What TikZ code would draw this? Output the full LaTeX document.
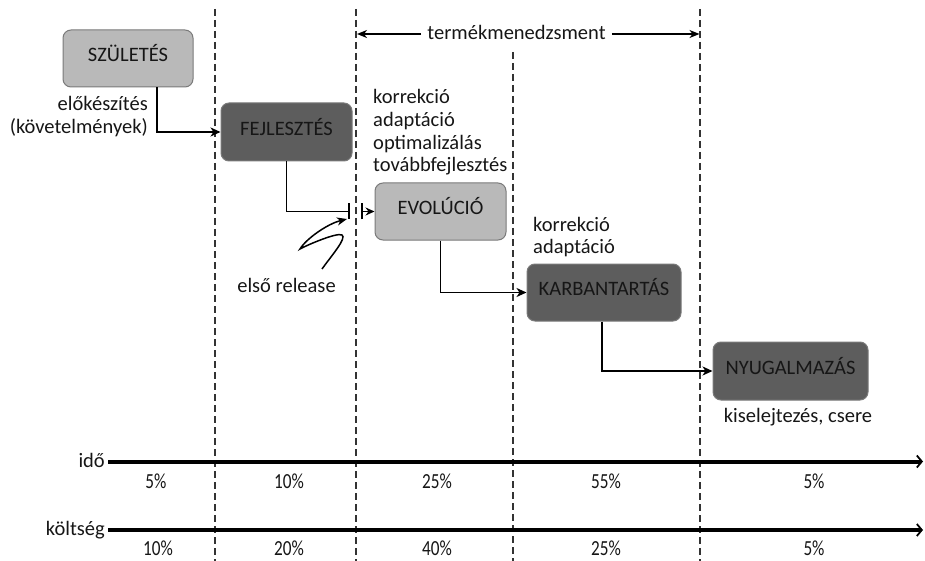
\documentclass[tikz,border=0pt]{standalone}
\usepackage{fontspec}
\usepackage{graphicx}
\setmainfont{Carlito}
\usetikzlibrary{arrows.meta}
\definecolor{lightbox}{HTML}{B9B9B9}
\definecolor{darkbox}{HTML}{5D5D5D}
\definecolor{boxedge}{HTML}{7A7A7A}
\definecolor{ink}{HTML}{161616}
\definecolor{dashc}{HTML}{333333}
\newcommand{\pct}[1]{\scalebox{0.8}[1]{#1}}
\begin{document}
\begin{tikzpicture}[x=1pt,y=-1pt,
  every node/.style={text=ink},
  box/.style={rounded corners=8pt, draw=boxedge, line width=1pt,
    font=\fontsize{20.5}{23}\selectfont, text height=0.64em, text depth=0pt},
  lbl/.style={font=\fontsize{20.5}{23}\selectfont, inner sep=0pt},
  pctlbl/.style={font=\fontsize{21.5}{24}\selectfont, inner sep=0pt, anchor=base},
  conn/.style={draw=black, line width=1.6pt, -{Stealth[length=10pt,width=9pt,inset=3pt]}},
  vdash/.style={draw=dashc, line width=2pt, dash pattern=on 7pt off 4pt},
  axis/.style={draw=black, line width=4pt, -{Straight Barb[length=5pt,width=12pt,line width=1.8pt]}},
  tmarrow/.style={draw=black, line width=1.5pt, -{Stealth[length=10pt,width=8pt,inset=3pt]}}
]
\useasboundingbox (0,0) rectangle (925,561);

% dashed separators
\coordinate (d1t) at (214.5,9);  \coordinate (d1b) at (214.5,561);
\coordinate (d2t) at (355.5,9);  \coordinate (d2b) at (355.5,561);
\coordinate (d3t) at (513,52);   \coordinate (d3b) at (513,561);
\coordinate (d4t) at (699.5,9);  \coordinate (d4b) at (699.5,561);
\draw[vdash] (d1t) -- (d1b);
\draw[vdash] (d2t) -- (d2b);
\draw[vdash] (d3t) -- (d3b);
\draw[vdash] (d4t) -- (d4b);

% product management span
\node[lbl, anchor=base] (tm) at (516.5,40) {termékmenedzsment};
\coordinate (tmL) at (357,34);
\coordinate (tmR) at (699.5,34);
\draw[tmarrow] ([xshift=-6pt]tm.west |- tmL) -- (tmL);
\draw[tmarrow] ([xshift=6pt]tm.east |- tmR) -- (tmR);

% phase boxes
\node[box, fill=lightbox, minimum width=130pt, minimum height=57pt] (szul) at (128,58.5) {SZÜLETÉS};
\node[box, fill=darkbox, minimum width=131pt, minimum height=58pt] (fej) at (286.5,132) {FEJLESZTÉS};
\node[box, fill=lightbox, minimum width=131pt, minimum height=57pt] (evo) at (440.5,211.5) {EVOLÚCIÓ};
\node[box, fill=darkbox, minimum width=154pt, minimum height=57pt] (karb) at (604,292.5) {KARBANTARTÁS};
\node[box, fill=darkbox, minimum width=155pt, minimum height=58pt] (nyug) at (790.5,371) {NYUGALMAZÁS};

% side texts
\node[lbl, anchor=base east] (elo1) at (148,111) {előkészítés};
\node[lbl, anchor=base east] (elo2) at (148,134) {(követelmények)};

\node[lbl, anchor=base west] (ev1) at (373,104) {korrekció};
\node[lbl, anchor=base west] (ev2) at (373,126.6) {adaptáció};
\node[lbl, anchor=base west] (ev3) at (373,149.2) {optimalizálás};
\node[lbl, anchor=base west] (ev4) at (373,171.8) {továbbfejlesztés};

\node[lbl, anchor=base west] (ka1) at (533,231) {korrekció};
\node[lbl, anchor=base west] (ka2) at (533,253.6) {adaptáció};

\node[lbl, anchor=base] (kis) at (798,422) {kiselejtezés, csere};
\node[lbl, anchor=base] (rel) at (286.5,292) {első release};

% connectors
\draw[conn] ([xshift=29pt]szul.south) |- (fej.west);
\coordinate (t1) at (350,211.5);
\coordinate (t2) at (361,211.5);
\draw[draw=black, line width=1.6pt, -{Bar[width=16pt,line width=1.6pt]}] (fej.south) |- (t1);
\draw[draw=black, line width=1.6pt, {Bar[width=16pt,line width=1.6pt]}-{Stealth[length=9pt,width=8pt,inset=3pt]}] (t2) -- (evo.west);
\draw[conn] (evo.south) |- (karb.west);
\draw[conn] ([xshift=-2pt]karb.south) |- (nyug.west);

% release pointer
\coordinate (sq0) at (322,269);
\coordinate (sqtip) at (347,219);
\draw[draw=black, line width=1.5pt, -{Stealth[length=10pt,width=8pt,inset=3pt]}]
  (sq0) .. controls (332,255) and (347,238) .. (342,235)
        .. controls (337,232) and (305,246) .. (300,249)
        .. controls (306,239) and (327,224) .. (sqtip);

% axes
\node[lbl, anchor=base east] (ido) at (105,467) {idő};
\node[lbl, anchor=base east] (kolt) at (105,535) {költség};
\coordinate (idoend) at (923,461.5);
\coordinate (koltend) at (923,530);
\draw[axis] ([xshift=3pt]ido.east |- idoend) -- (idoend);
\draw[axis] ([xshift=3pt]kolt.east |- koltend) -- (koltend);

% percentages
\node[pctlbl] (p1) at (156,488) {\pct{5\%}};
\node[pctlbl] (p2) at (289,488) {\pct{10\%}};
\node[pctlbl] (p3) at (437,488) {\pct{25\%}};
\node[pctlbl] (p4) at (606,488) {\pct{55\%}};
\node[pctlbl] (p5) at (814,488) {\pct{5\%}};
\node[pctlbl] (c1) at (158,555) {\pct{10\%}};
\node[pctlbl] (c2) at (289,555) {\pct{20\%}};
\node[pctlbl] (c3) at (437,555) {\pct{40\%}};
\node[pctlbl] (c4) at (606,555) {\pct{25\%}};
\node[pctlbl] (c5) at (814,555) {\pct{5\%}};
\end{tikzpicture}
\end{document}
